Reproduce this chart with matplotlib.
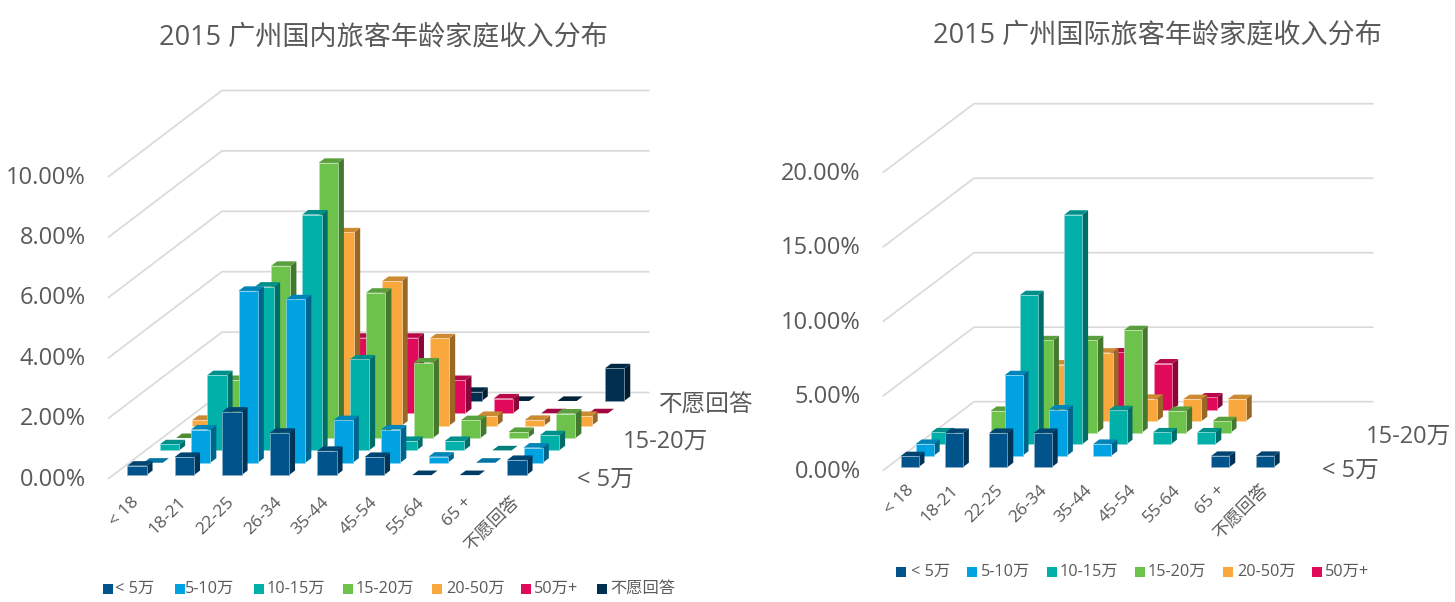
import numpy as np
import matplotlib
matplotlib.use("Agg")
import matplotlib.pyplot as plt
from matplotlib.colors import to_rgb
from matplotlib.patches import Polygon, Rectangle

plt.rcParams["font.family"] = ["Open Sans", "Noto Sans CJK SC", "DejaVu Sans"]

ages = ["< 18", "18-21", "22-25", "26-34", "35-44", "45-54", "55-64", "65 +", "不愿回答"]
nan = np.nan

# guangzhou domestic, percent
dom_under5 = [0.31, 0.60, 2.10, 1.40, 0.80, 0.60, 0, 0, 0.50]
dom_5_10 = [0, 1.10, 5.69, 5.41, 1.41, 1.10, 0.20, 0, 0.50]
dom_10_15 = [0.20, 2.49, 5.42, 7.81, 3.01, 0.31, 0.31, 0, 0.50]
dom_15_20 = [0, 1.92, 5.70, 9.11, 4.81, 2.50, 0.59, 0.20, 0.81]
dom_20_50 = [0.19, 1.00, 2.50, 6.40, 4.79, 2.89, 0.32, 0.19, 0.32]
dom_50plus = [0, 0, 1.00, 2.50, 2.50, 1.10, 0.49, 0, 0]
dom_noans = [0, 0, 0, 0, 0, 0.30, 0, 0, 1.08]

# guangzhou international, percent
intl_under5 = [0.74, 2.30, 2.30, 2.30, nan, nan, nan, 0.76, 0.76]
intl_5_10 = [0.79, nan, 5.40, 3.10, 0.79, nan, nan, nan, nan]
intl_10_15 = [0.79, nan, 10.0, 15.4, 2.28, 0.79, 0.79, nan, nan]
intl_15_20 = [nan, 1.46, 6.20, 6.20, 6.88, 1.46, 0.77, nan, nan]
intl_20_50 = [nan, nan, 3.80, 4.60, 1.50, 1.48, 1.48, nan, nan]
intl_50plus = [nan, nan, nan, 3.84, 3.10, 0.82, nan, nan, nan]

dom_series = [dom_under5, dom_5_10, dom_10_15, dom_15_20, dom_20_50, dom_50plus, dom_noans]
intl_series = [intl_under5, intl_5_10, intl_10_15, intl_15_20, intl_20_50, intl_50plus]

series_names = ["< 5万", "5-10万", "10-15万", "15-20万", "20-50万", "50万+", "不愿回答"]
colors = ["#00538B", "#00A2E2", "#00B0A9", "#6CC24A", "#F9A83E", "#E10A5A", "#002F4F"]

TEXT = "#595959"
GRID = "#D9D9D9"


def shade(color, k):
    return tuple(c * k for c in to_rgb(color))


def tint(color, k):
    return tuple(c + (1 - c) * k for c in to_rgb(color))


def draw_3d_bars(ax, series, corner, cat_w, floor, px_per_pct, ticks, bar_w, depth, tick_dy):
    x0, y0 = corner
    n_cat = len(ages)
    n_row = len(series)

    def proj(c, r, v):
        # c in category units, r in row units, v in percent
        return (x0 + c * cat_w + r * floor[0] / n_row,
                y0 - r * floor[1] / n_row - v * px_per_pct)

    for t in ticks:
        pts = [proj(0, 0, t), proj(0, n_row, t), proj(n_cat, n_row, t)]
        ax.plot(*zip(*pts), color=GRID, lw=1.2, solid_capstyle="butt", zorder=1)
        ax.text(x0 - 22, proj(0, 0, t)[1] + tick_dy, "%.2f%%" % t, ha="right", va="center",
                fontsize=17, color=TEXT)

    gap = (1 - bar_w) / 2
    off = (1 - depth) / 2
    z = 2
    for r in range(n_row - 1, -1, -1):
        col = colors[r]
        for k, v in enumerate(series[r]):
            if np.isnan(v):
                continue
            l, h = k + gap, k + gap + bar_w
            f, b = r + off, r + off + depth
            top_col = shade(col, 0.82) if v > 0 else shade(col, 0.72)
            if v > 0:
                ax.add_patch(Polygon([proj(h, f, 0), proj(h, b, 0), proj(h, b, v), proj(h, f, v)],
                                     fc=shade(col, 0.62), ec="none", zorder=z))
            ax.add_patch(Polygon([proj(l, f, v), proj(h, f, v), proj(h, b, v), proj(l, b, v)],
                                 fc=top_col, ec="none", zorder=z))
            if v > 0:
                ax.add_patch(Polygon([proj(l, f, 0), proj(h, f, 0), proj(h, f, v), proj(l, f, v)],
                                     fc=col, ec=tint(col, 0.55), lw=0.5, zorder=z + 0.5))
            z += 1


def add_legend(ax, names, sq_x, text_x, y):
    for name, col, sx, tx in zip(names, colors, sq_x, text_x):
        ax.add_patch(Rectangle((sx, y - 5), 10, 10, fc=col, ec="none"))
        ax.text(tx, y, name, ha="left", va="center", fontsize=11.7, color=TEXT)


fig = plt.figure(figsize=(14.55, 6.02), dpi=100)
ax = fig.add_axes([0, 0, 1, 1])
ax.set_xlim(0, 1455)
ax.set_ylim(602, 0)
ax.axis("off")

# left chart
draw_3d_bars(ax, dom_series, (108, 479), 47.5, (114, 86.5), 30.2, [0, 2, 4, 6, 8, 10], 0.406, 0.37, 0.5)
ax.text(383, 37, "2015 广州国内旅客年龄家庭收入分布", ha="center", va="center", fontsize=19.5, color=TEXT)
ax.text(577, 480, "< 5万", ha="left", va="center", fontsize=17, color=TEXT)
ax.text(623, 442, "15-20万", ha="left", va="center", fontsize=17, color=TEXT)
ax.text(659, 406, "不愿回答", ha="left", va="center", fontsize=17, color=TEXT)
for i, lab in enumerate(ages):
    ax.text(131 + i * 47.6, 494, lab, rotation=45, rotation_mode="anchor", ha="right", va="top",
            fontsize=12.5, color=TEXT)
add_legend(ax, series_names, [103, 175, 254, 343, 432, 521, 597], [115, 185, 267, 356, 446, 534, 610], 589)

# right chart
draw_3d_bars(ax, intl_series, (882.7, 470.7), 44.4, (91.3, 69), 14.9, [0, 5, 10, 15, 20], 0.405, 0.39, 1)
ax.text(1157, 35, "2015 广州国际旅客年龄家庭收入分布", ha="center", va="center", fontsize=19.5, color=TEXT)
ax.text(1322, 471, "< 5万", ha="left", va="center", fontsize=17, color=TEXT)
ax.text(1366, 437, "15-20万", ha="left", va="center", fontsize=17, color=TEXT)
for i, lab in enumerate(ages):
    ax.text(906 + i * 44.4, 482, lab, rotation=45, rotation_mode="anchor", ha="right", va="top",
            fontsize=12.5, color=TEXT)
add_legend(ax, series_names[:6], [896, 967, 1047, 1135, 1223, 1312], [911, 981, 1060, 1148, 1237, 1325], 572)

fig.savefig("out.png", dpi=100)
